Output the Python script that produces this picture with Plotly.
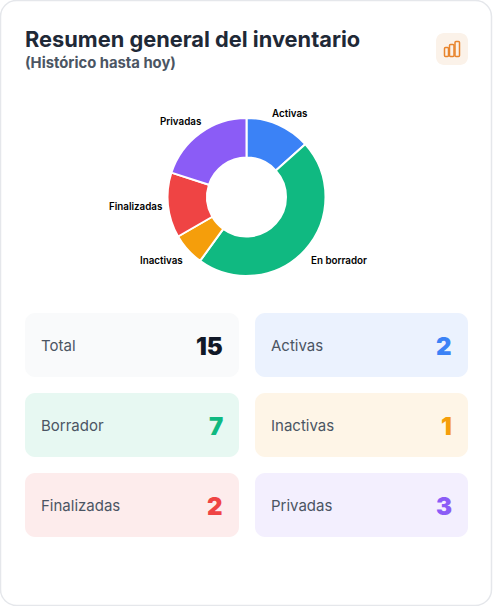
import plotly.graph_objects as go

W, H = 493, 606

# Data
categories = ["Activas", "En borrador", "Inactivas", "Finalizadas", "Privadas"]
values = [2, 7, 1, 2, 3]
slice_colors = ["#3b82f6", "#10b981", "#f59e0b", "#ef4444", "#8b5cf6"]
title_text = "Resumen general del inventario"
subtitle_text = "(Histórico hasta hoy)"
stat_labels = ["Total", "Activas", "Borrador", "Inactivas", "Finalizadas", "Privadas"]
stat_values = [15, 2, 7, 1, 2, 3]
stat_value_colors = ["#111827", "#3b82f6", "#10b981", "#f59e0b", "#ef4444", "#8b5cf6"]
stat_backgrounds = ["#f9fafb", "#ebf2fe", "#e7f8f2", "#fef5e7", "#fdecec", "#f3effe"]

FONT = "Inter, Liberation Sans, sans-serif"


def X(px):
    return px / W


def Y(py):
    return 1 - py / H


def rounded(x0, y0, x1, y1, r, fill, line=None, lw=0):
    k = r * 0.4477
    p = (f"M {X(x0 + r)} {Y(y0)} L {X(x1 - r)} {Y(y0)} "
         f"C {X(x1 - k)} {Y(y0)} {X(x1)} {Y(y0 + k)} {X(x1)} {Y(y0 + r)} "
         f"L {X(x1)} {Y(y1 - r)} "
         f"C {X(x1)} {Y(y1 - k)} {X(x1 - k)} {Y(y1)} {X(x1 - r)} {Y(y1)} "
         f"L {X(x0 + r)} {Y(y1)} "
         f"C {X(x0 + k)} {Y(y1)} {X(x0)} {Y(y1 - k)} {X(x0)} {Y(y1 - r)} "
         f"L {X(x0)} {Y(y0 + r)} "
         f"C {X(x0)} {Y(y0 + k)} {X(x0 + k)} {Y(y0)} {X(x0 + r)} {Y(y0)} Z")
    return dict(type="path", path=p, xref="paper", yref="paper", fillcolor=fill,
                line=dict(color=line or "rgba(0,0,0,0)", width=lw), layer="below")


def label(px, py, text, size, color, anchor="left", weight=400):
    shift = {"left": -2, "right": 2, "center": 0}[anchor]
    return dict(x=X(px), y=Y(py), xref="paper", yref="paper", text=text, showarrow=False,
                xanchor=anchor, yanchor="middle", align=anchor, xshift=shift,
                font=dict(family=FONT, size=size, color=color, weight=weight))


shapes = [rounded(0.5, 0.5, 491.5, 605.5, 16, "#ffffff", "#e5e7eb", 1.5)]
annotations = [
    label(25, 38.5, title_text, 21.8, "#1f2937", weight=700),
    label(25, 63, subtitle_text, 14.8, "#4b5563", weight=700),
]

# Icon
shapes.append(rounded(436, 33, 468, 65, 8, "#fbf2e9"))
for x0, y0, x1 in [(444.5, 47.5, 448.5), (449.5, 44.5, 454), (455, 41.5, 459.5)]:
    shapes.append(rounded(x0, y0, x1, 56.5, 1, "rgba(0,0,0,0)", "#e8842c", 1.5))

# Stat cards
col_x = [(25, 239), (255, 468)]
row_y = [(313, 377), (393, 457), (473, 537)]
for i, (name, val, vc, bg) in enumerate(zip(stat_labels, stat_values, stat_value_colors, stat_backgrounds)):
    x0, x1 = col_x[i % 2]
    y0, y1 = row_y[i // 2]
    shapes.append(rounded(x0, y0, x1, y1, 10, bg))
    annotations.append(label(x0 + 16, (y0 + y1) / 2 + 0.5, name, 15, "#4b5563"))
    annotations.append(label(x1 - 16.5, (y0 + y1) / 2 + 1, str(val), 24, vc, anchor="right", weight=900))

# Pie labels
label_pos = [(289, 113.5), (339, 260), (161, 260), (135, 206), (180, 121)]
for name, (px, py) in zip(categories, label_pos):
    annotations.append(label(px, py, name, 9.8, "#000000", anchor="center", weight=600))

cx, cy, R = 246.5, 197, 79
fig = go.Figure(go.Pie(
    labels=categories, values=values, sort=False, direction="clockwise", rotation=0,
    hole=0.5, textinfo="none", showlegend=False, hoverinfo="label+value",
    marker=dict(colors=slice_colors, line=dict(color="#ffffff", width=2)),
    domain=dict(x=[X(cx - R), X(cx + R)], y=[Y(cy + R), Y(cy - R)]),
))
fig.update_layout(
    width=W, height=H, margin=dict(l=0, r=0, t=0, b=0), paper_bgcolor="#ffffff",
    shapes=shapes, annotations=annotations,
)
fig.write_html("out.html", config={"displayModeBar": False},
               post_script="document.body.style.margin='0';")
